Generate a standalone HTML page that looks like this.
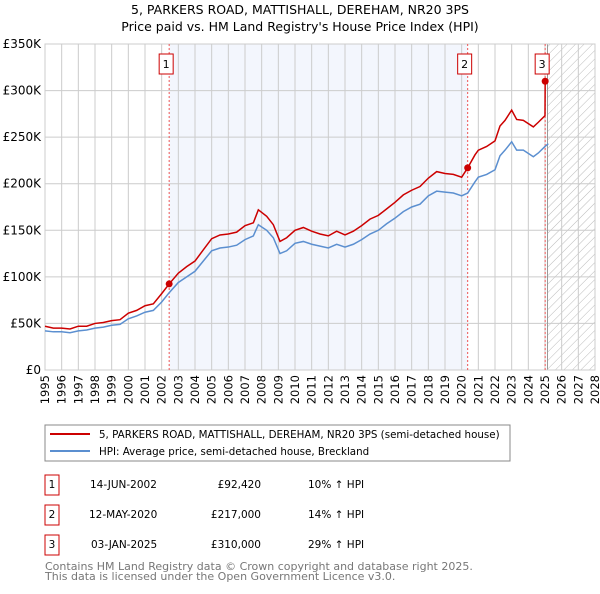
<!DOCTYPE html>
<html><head><meta charset="utf-8"><style>
body{margin:0;background:#fff;font-family:"DejaVu Sans","Liberation Sans",sans-serif;}
</style></head><body>
<svg id="c" width="600" height="590" xmlns="http://www.w3.org/2000/svg" font-family="DejaVu Sans, Liberation Sans, sans-serif">
<text x="300" y="14" text-anchor="middle" font-size="12.5">5, PARKERS ROAD, MATTISHALL, DEREHAM, NR20 3PS</text>
<text x="300" y="31" text-anchor="middle" font-size="12.5">Price paid vs. HM Land Registry's House Price Index (HPI)</text>
<g id="plot"></g>
<g>
<rect x="45" y="425" width="465" height="36" fill="#fff" stroke="#888"/>
<line x1="50" y1="434" x2="90" y2="434" stroke="#cc0000" stroke-width="2"/>
<text x="99" y="438" font-size="10.3">5, PARKERS ROAD, MATTISHALL, DEREHAM, NR20 3PS (semi-detached house)</text>
<line x1="50" y1="451" x2="90" y2="451" stroke="#5b8fd0" stroke-width="2"/>
<text x="99" y="455" font-size="10.3">HPI: Average price, semi-detached house, Breckland</text>
</g>
<g font-size="10.5">
<rect x="45" y="475" width="14" height="20" fill="#fff" stroke="#cc0000"/><text x="52" y="488" text-anchor="middle">1</text>
<text x="90" y="488">14-JUN-2002</text><text x="261" y="488" text-anchor="end">£92,420</text><text x="308" y="488">10% ↑ HPI</text>
<rect x="45" y="505" width="14" height="20" fill="#fff" stroke="#cc0000"/><text x="52" y="518" text-anchor="middle">2</text>
<text x="89" y="518">12-MAY-2020</text><text x="261" y="518" text-anchor="end">£217,000</text><text x="308" y="518">14% ↑ HPI</text>
<rect x="45" y="535" width="14" height="20" fill="#fff" stroke="#cc0000"/><text x="52" y="548" text-anchor="middle">3</text>
<text x="91" y="548">03-JAN-2025</text><text x="261" y="548" text-anchor="end">£310,000</text><text x="308" y="548">29% ↑ HPI</text>
</g>
<text x="45" y="570" font-size="11" fill="#777">Contains HM Land Registry data © Crown copyright and database right 2025.</text>
<text x="45" y="580" font-size="11" fill="#777">This data is licensed under the Open Government Licence v3.0.</text>
</svg>
<script>
const yTicks=[0,50,100,150,200,250,300,350];
const yLabels=["£0","£50K","£100K","£150K","£200K","£250K","£300K","£350K"];
const xYears=[1995,1996,1997,1998,1999,2000,2001,2002,2003,2004,2005,2006,2007,2008,2009,2010,2011,2012,2013,2014,2015,2016,2017,2018,2019,2020,2021,2022,2023,2024,2025,2026,2027,2028];
const hpiDates=[1995,1995.5,1996,1996.5,1997,1997.5,1998,1998.5,1999,1999.5,2000,2000.5,2001,2001.5,2002,2002.45,2003,2003.5,2004,2004.5,2005,2005.5,2006,2006.5,2007,2007.5,2007.8,2008.3,2008.7,2009.1,2009.5,2010,2010.5,2011,2011.5,2012,2012.5,2013,2013.5,2014,2014.5,2015,2015.5,2016,2016.5,2017,2017.5,2018,2018.5,2019,2019.5,2020,2020.36,2020.8,2021,2021.5,2022,2022.3,2022.6,2023,2023.3,2023.7,2024.3,2024.6,2025,2025.2];
const hpiValues=[42,41,41,40,42,43,45,46,48,49,55,58,62,64,73,83,94,100,106,117,128,131,132,134,140,144,156,150,142,125,128,136,138,135,133,131,135,132,135,140,146,150,157,163,170,175,178,187,192,191,190,187,190,202,207,210,215,230,236,245,236,236,229,233,240,243];
const priceDates=[1995,1995.5,1996,1996.5,1997,1997.5,1998,1998.5,1999,1999.5,2000,2000.5,2001,2001.5,2002,2002.45,2003,2003.5,2004,2004.5,2005,2005.5,2006,2006.5,2007,2007.5,2007.8,2008.3,2008.7,2009.1,2009.5,2010,2010.5,2011,2011.5,2012,2012.5,2013,2013.5,2014,2014.5,2015,2015.5,2016,2016.5,2017,2017.5,2018,2018.5,2019,2019.5,2020,2020.36,2020.8,2021,2021.5,2022,2022.3,2022.6,2023,2023.3,2023.7,2024.3,2024.6,2025,2025.01];
const priceValues=[47,45,45,44,47,47,50,51,53,54,61,64,69,71,82,92.4,104,111,117,129,141,145,146,148,155,158,172,165,156,138,142,150,153,149,146,144,149,145,149,155,162,166,173,180,188,193,197,206,213,211,210,207,217,231,236,240,246,262,268,279,269,268,261,266,273,310];
const saleDates=[2002.45,2020.36,2025.01];
const salePrices=[92.42,217,310];
const saleLabels=["1","2","3"];

const NS="http://www.w3.org/2000/svg";
const L=45,R=595,T=44,B=370;
const x=v=>L+(v-1995)/(2028-1995)*(R-L);
const y=v=>B-v/350*(B-T);
const g=document.getElementById('plot');
function mk(t,a,p){const e=document.createElementNS(NS,t);for(const k in a)e.setAttribute(k,a[k]);(p||g).appendChild(e);return e;}
const defs=mk('defs',{});
const pat=mk('pattern',{id:'hatch',width:6,height:6,patternUnits:'userSpaceOnUse',patternTransform:'rotate(45)'},defs);
mk('line',{x1:0,y1:0,x2:0,y2:6,stroke:'#bbb','stroke-width':1},pat);
let e;
e=mk('rect',{x:x(saleDates[0]),y:T,width:x(saleDates[1])-x(saleDates[0]),height:B-T,fill:'#f3f6fd'});

e=mk('rect',{x:x(2025.15),y:T,width:R-x(2025.15),height:B-T,fill:'url(#hatch)'});

xYears.forEach(yr=>{e=mk('line',{x1:x(yr),y1:T,x2:x(yr),y2:B,stroke:'#ccc','stroke-width':1});

const t=mk('text',{x:0,y:0,'font-size':11.5,'text-anchor':'end',transform:`translate(${x(yr)+4},${B+5}) rotate(-90)`});t.textContent=yr;
});
yTicks.forEach((v,i)=>{e=mk('line',{x1:L,y1:y(v),x2:R,y2:y(v),stroke:'#ccc','stroke-width':1});

const t=mk('text',{x:L-4,y:y(v)+4,'font-size':12,'text-anchor':'end'});t.textContent=yLabels[i];
});
e=mk('line',{x1:x(2025.15),y1:T,x2:x(2025.15),y2:B,stroke:'#999'});

e=mk('rect',{x:L,y:T,width:R-L,height:B-T,fill:'none',stroke:'#ccc'});

saleDates.forEach((d,i)=>{e=mk('line',{x1:x(d),y1:T,x2:x(d),y2:B,stroke:'#e55','stroke-width':1,'stroke-dasharray':'2,2'});

e=mk('rect',{x:x(d)-10,y:54,width:14,height:20,fill:'#fff',stroke:'#cc0000'});

const t=mk('text',{x:x(d)-3,y:68,'font-size':11,'text-anchor':'middle'});t.textContent=saleLabels[i];
});
e=mk('polyline',{points:hpiDates.map((d,i)=>x(d)+','+y(hpiValues[i])).join(' '),fill:'none',stroke:'#5b8fd0','stroke-width':1.5});

e=mk('polyline',{points:priceDates.map((d,i)=>x(d)+','+y(priceValues[i])).join(' '),fill:'none',stroke:'#cc0000','stroke-width':1.5});

saleDates.forEach((d,i)=>{e=mk('circle',{cx:x(d),cy:y(salePrices[i]),r:3.5,fill:'#cc0000'});
});
</script>
</body></html>
